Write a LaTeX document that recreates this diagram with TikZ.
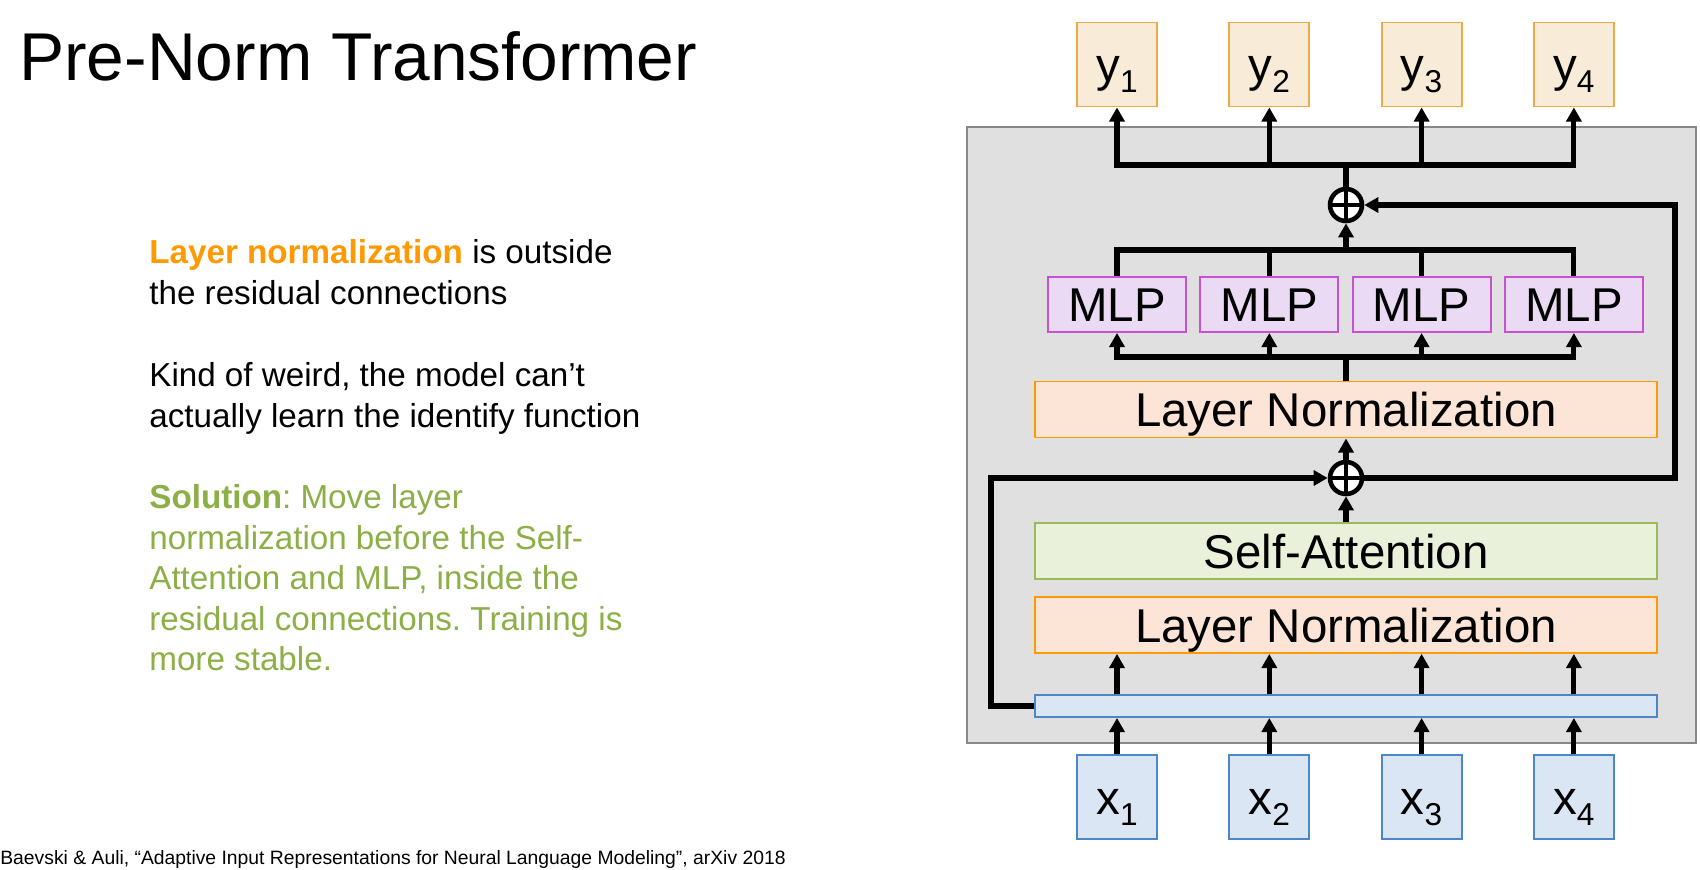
\documentclass[tikz,border=0pt]{standalone}
\usepackage{fontspec}
\setmainfont{Liberation Sans}
\usepackage{xcolor}
\usepackage{tikz}
\usetikzlibrary{positioning, arrows.meta, calc}
\definecolor{OutFill}{RGB}{248,236,217}
\definecolor{OutLine}{RGB}{232,172,72}
\definecolor{InFill}{RGB}{218,230,243}
\definecolor{InLine}{RGB}{76,136,200}
\definecolor{MlpFill}{RGB}{235,218,244}
\definecolor{MlpLine}{RGB}{198,82,210}
\definecolor{NormFill}{RGB}{252,229,214}
\definecolor{NormLine}{RGB}{255,153,0}
\definecolor{AttnFill}{RGB}{234,241,218}
\definecolor{AttnLine}{RGB}{155,187,89}
\definecolor{BlockFill}{RGB}{224,224,224}
\definecolor{BlockLine}{RGB}{136,136,136}
\definecolor{HiOrange}{RGB}{255,153,0}
\definecolor{HiGreen}{RGB}{140,175,70}
\newcommand{\idx}[1]{\raisebox{-6.5pt}{\fontsize{18pt}{18pt}\selectfont #1}}
\frenchspacing

\begin{document}
\begin{tikzpicture}[x=0.02cm, y=-0.02cm,
          bx/.style={rectangle, line width=1.1pt, inner sep=0pt,
                     text height=19.4pt, text depth=0pt,
                     font=\fontsize{27pt}{30pt}\selectfont},
          io/.style={bx, minimum width=1.6cm, minimum height=1.68cm},
          wide/.style={bx, minimum width=12.44cm, minimum height=1.12cm},
          mlp/.style={bx, fill=MlpFill, draw=MlpLine,
                      minimum width=2.76cm, minimum height=1.1cm},
          sum/.style={circle, draw, fill=white, line width=2.6pt,
                      minimum size=0.64cm, inner sep=0pt,
                      path picture={\draw[line width=2.6pt]
                        (path picture bounding box.north) -- (path picture bounding box.south)
                        (path picture bounding box.west) -- (path picture bounding box.east);}},
          para/.style={anchor=north west, inner sep=0pt, align=left,
                       font=\fontsize{18.9pt}{23.1pt}\selectfont},
          wire/.style={draw=black, line width=2.9pt},
          arr/.style={wire, -{Triangle[length=8pt, width=8.5pt]}}
        ]
        \fill[white] (0,0) rectangle (1700,869);
        \useasboundingbox (0,0) rectangle (1700,869);

        % slide text
        \node[anchor=base west, inner sep=0pt,
              font=\fontsize{38.5pt}{40pt}\selectfont] (title) at (19,80)
              {Pre-Norm Transformer};
        \node[para] (note1) at (149,239)
              {\textcolor{HiOrange}{\bfseries Layer normalization} is outside\\
               the residual connections};
        \node[para] (note2) at (149,362)
              {Kind of weird, the model can’t\\
               actually learn the identify function};
        \node[para, text=HiGreen] (note3) at (149,484)
              {\textbf{Solution}: Move layer\\
               normalization before the Self-\\
               Attention and MLP, inside the\\
               residual connections. Training is\\
               more stable.};
        \node[anchor=base west, inner sep=0pt,
              font=\fontsize{11pt}{13pt}\selectfont] (cite) at (0,864)
              {Baevski \& Auli, “Adaptive Input Representations for Neural Language Modeling”, arXiv 2018};

        % transformer block
        \node[draw=BlockLine, fill=BlockFill, line width=1.4pt,
              minimum width=14.58cm, minimum height=12.32cm] (blk) at (1331.5,435) {};

        \foreach \i/\cx in {1/1117, 2/1269.3, 3/1421.6, 4/1573.9} {
          \node[io, fill=OutFill, draw=OutLine] (y\i) at (\cx,64.5) {y\idx{\i}};
          \node[io, fill=InFill, draw=InLine] (x\i) at (\cx,797) {x\idx{\i}};
          \node[mlp] (mlp\i) at (\cx,304.5) {MLP};
        }

        \node[wide, fill=NormFill, draw=NormLine] (ln2) at (1346,409.5)
              {Layer Normalization};
        \node[wide, fill=AttnFill, draw=AttnLine] (sa) at (1346,551)
              {Self-Attention};
        \node[wide, fill=NormFill, draw=NormLine] (ln1) at (1346,625)
              {Layer Normalization};
        \node[bx, fill=InFill, draw=InLine, minimum width=12.44cm,
              minimum height=0.44cm, text height=0pt] (emb) at (1346,706) {};

        \node[sum] (sum1) at (1346,478) {};
        \node[sum] (sum2) at (1346,205) {};

        % inputs into the first norm
        \foreach \i in {1,...,4} {
          \draw[arr] (x\i.north) -- (x\i.north |- emb.south);
          \draw[arr] (x\i.north |- emb.north) -- (x\i.north |- ln1.south);
        }

        % attention and its residual
        \draw[arr] (sa.north) -- (sum1.south);
        \draw[arr] (sum1.north) -- (ln2.south);
        \coordinate (resL) at (991,706);
        \draw[arr] (emb.west) -- (resL) |- (sum1.west);

        % mlp and its residual
        \coordinate (fanin) at (1346,357);
        \draw[wire] (ln2.north) -- (fanin);
        \draw[wire, line cap=rect] (mlp1.south |- fanin) -- (mlp4.south |- fanin);
        \foreach \i in {1,...,4}
          \draw[arr] (mlp\i.south |- fanin) -- (mlp\i.south);

        \coordinate (fanout) at (1346,250);
        \draw[wire] (mlp1.north) |- (fanout) -| (mlp4.north);
        \draw[wire] (mlp2.north) -- (mlp2.north |- fanout);
        \draw[wire] (mlp3.north) -- (mlp3.north |- fanout);
        \draw[arr] (fanout) -- (sum2.south);

        \coordinate (resR) at (1675,478);
        \draw[arr] (sum1.east) -- (resR) |- (sum2.east);

        % outputs
        \coordinate (split) at (1346,165);
        \draw[wire] (sum2.north) -- (split);
        \draw[wire, line cap=rect] (y1.south |- split) -- (y4.south |- split);
        \foreach \i in {1,...,4}
          \draw[arr] (y\i.south |- split) -- (y\i.south);
      \end{tikzpicture}
\end{document}
